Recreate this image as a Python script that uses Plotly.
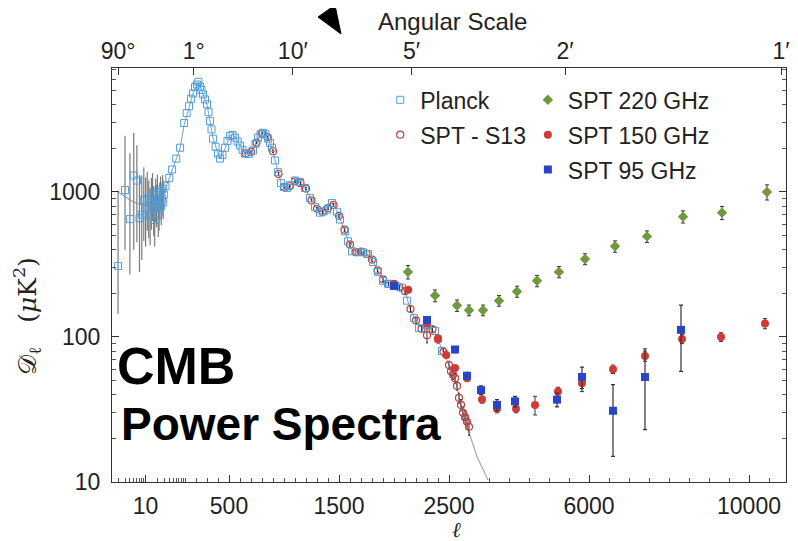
import math
import plotly.graph_objects as go

# ---------------- data ----------------
# Planck low-ell points
planck_low_l = [2, 3, 4, 5, 6, 7, 8, 9, 10, 11, 12, 13, 14, 15, 16, 17, 18, 19, 20,
                21, 22, 23, 24, 25, 26, 27, 28, 29]
planck_low_D = [309, 1030, 650, 1300, 1200, 660, 700, 880, 760, 900, 780, 690, 850, 950,
                760, 640, 900, 820, 1000, 700, 760, 880, 1000, 800, 900, 1050, 850, 960]
planck_low_up = [700, 1410, 1200, 1250, 900, 650, 600, 600, 500, 480, 420, 380, 400, 400,
                 340, 300, 340, 300, 320, 260, 260, 280, 280, 240, 250, 260, 220, 240]
planck_low_dn = [165, 630, 380, 900, 750, 380, 360, 420, 340, 360, 300, 260, 300, 320,
                 260, 220, 280, 250, 280, 210, 220, 240, 250, 210, 220, 240, 200, 210]

# Planck binned points
planck_l = [32, 40, 47, 60, 75, 95, 115, 136, 155, 173, 191, 209, 222, 236, 250, 264, 282,
            300, 314, 327, 341, 355, 378, 400, 418, 440, 464, 486, 509, 532, 555, 578, 600,
            623, 645, 680, 718, 741, 764, 787, 809, 832, 855, 873, 891, 918, 945, 973, 1000,
            1027, 1055, 1100, 1145, 1191, 1236, 1282, 1327, 1360, 1391, 1436, 1482, 1509,
            1555, 1582, 1618, 1664, 1718, 1764, 1809, 1855, 1900, 1945, 2009, 2073, 2118,
            2182, 2227, 2300, 2373, 2436]
planck_D = [1100, 1250, 1430, 1700, 2020, 2990, 3500, 3900, 4400, 4780, 5300, 5510, 5750,
            5340, 5050, 4710, 4350, 4030, 3550, 3090, 2700, 2330, 2050, 1840, 1700, 1800,
            2020, 2250, 2440, 2470, 2370, 2230, 2090, 1950, 1840, 1830, 1930, 2150, 2370,
            2500, 2560, 2500, 2330, 2180, 2020, 1650, 1370, 1150, 1080, 1065, 1115, 1200,
            1170, 1065, 910, 790, 720, 735, 755, 840, 730, 645, 535, 457, 390, 384, 384,
            373, 329, 281, 244, 233, 226, 219, 178, 135, 115, 120, 110, 80]

# SPT - S13 points
s13_l = [650, 700, 750, 800, 850, 900, 950, 1000, 1050, 1100, 1150, 1200, 1250, 1300, 1350,
         1400, 1450, 1500, 1550, 1600, 1650, 1700, 1750, 1800, 1850, 1900, 1950, 2000, 2050,
         2100, 2150, 2200, 2250, 2300, 2350, 2400, 2450, 2500, 2550, 2600, 2650, 2700, 2750,
         2800, 2850, 2900, 2950, 3000]
s13_D = [1840, 1890, 2190, 2530, 2390, 1910, 1330, 1085, 1095, 1185, 1150, 1055, 875, 765,
         730, 775, 815, 685, 550, 435, 385, 388, 375, 342, 288, 250, 232, 229, 220, 207,
         156, 130, 114, 103, 113, 96, 79, 64, 58, 55, 52, 46, 38, 34, 30, 28, 26, 24]
s13_err = [40, 40, 40, 45, 40, 35, 30, 25, 25, 25, 25, 22, 20, 18, 18, 18, 18, 16, 14, 12,
           11, 11, 10, 9, 8, 8, 7, 7, 7, 7, 6, 6, 6, 12, 6, 5, 5, 4, 4, 4, 4, 3, 3, 3, 3, 3,
           3, 3]

# best-fit theory curve
theory_l = [2, 5, 10, 20, 30, 47, 75, 95, 136, 173, 209, 222, 236, 264, 300, 327, 355, 400,
            418, 440, 464, 509, 535, 555, 600, 645, 680, 718, 764, 809, 830, 855, 891, 918,
            945, 973, 1018, 1055, 1100, 1145, 1191, 1236, 1282, 1327, 1391, 1436, 1482, 1509,
            1555, 1582, 1618, 1664, 1718, 1764, 1809, 1855, 1900, 1945, 2009, 2073, 2100,
            2145, 2182, 2227, 2300, 2373, 2436, 2525, 2650, 2700, 2750, 2825, 2900, 3000,
            3200, 3475]
theory_D = [1000, 850, 800, 900, 1000, 1400, 2000, 2900, 3900, 4780, 5510, 5700, 5400, 4710,
            4000, 3100, 2350, 1850, 1720, 1800, 2020, 2440, 2480, 2400, 2100, 1850, 1850,
            1950, 2350, 2560, 2530, 2350, 2000, 1650, 1380, 1160, 1050, 1110, 1180, 1170,
            1070, 920, 800, 730, 760, 840, 740, 650, 540, 460, 400, 385, 385, 370, 330, 285,
            248, 235, 228, 220, 210, 157, 137, 118, 118, 108, 82, 62, 52, 46, 38, 31, 28, 22,
            15, 10.3]

# SPT 220 GHz
spt220_l = [2127, 2373, 2700, 3000, 3350, 3750, 4200, 4700, 5250, 5900, 6650, 7450, 8350,
            9325, 10450]
spt220_D = [281, 193, 165, 153, 153, 178, 206, 244, 281, 345, 422, 494, 676, 720, 1000]
spt220_err = [30, 18, 15, 13, 13, 15, 18, 22, 25, 30, 38, 45, 65, 75, 120]

# SPT 150 GHz
spt150_l = [2000, 2130, 2300, 2400, 2475, 2650, 2950, 3325, 3700, 4175, 4650, 5225, 5825,
            6600, 7400, 8325, 9300, 10400]
spt150_D = [233, 212, 124, 98, 75, 61, 52, 37, 32, 32, 34, 42, 48, 60, 74, 97, 100, 124]
spt150_err = [6, 5, 4, 3, 3, 2, 2, 2, 2, 2, 5, 3, 6, 4, 6, 7, 7, 10]

# SPT 95 GHz
spt95_l = [2000, 2300, 2650, 2950, 3300, 3700, 4150, 5200, 5825, 6600, 7400, 8300]
spt95_D = [225, 131, 82, 54, 43, 34, 36, 37, 53, 31, 53, 112]
spt95_err = [8, 5, 4, 3, 3, 3, 3, 4, 9, 16, 30, 54]

# axis ticks
bottom_ticks = [10, 500, 1500, 2500, 6000, 10000]
top_angles_arcmin = [5400, 60, 10, 5, 2, 1]
top_labels = ["90°", "1°", "10′", "5′", "2′", "1′"]


# ---------------- piecewise ell scale (log, then two linear pieces) ----------------
def u(l):
    if l <= 100:
        return 73 + 39.4 * math.log10(l / 100.0)
    elif l <= 2500:
        return 73 + 0.11 * (l - 100)
    return 337 + 0.04 * (l - 2500)


def U(ls):
    return [u(v) for v in ls]


minor_l = ([2, 3, 4, 5, 6, 7, 8, 9, 20, 30, 40, 50, 60, 70, 80, 90, 100] +
           [v for v in range(200, 2500, 100) if v not in (500, 1500)] +
           [3000, 3500, 4000, 4500, 5000, 5500, 6500, 7000, 7500, 8000, 8500, 9000, 9500,
            10500])

FONT = "Liberation Sans"
TXT = "#222222"

fig = go.Figure()

fig.add_trace(go.Scatter(x=U(theory_l), y=theory_D, mode="lines",
                         line=dict(color="#95a3b5", width=1.1), showlegend=False,
                         hoverinfo="skip"))

fig.add_trace(go.Scatter(x=U(planck_low_l), y=planck_low_D, mode="markers",
                         marker=dict(symbol="square-open", size=7, color="#4f9fdc",
                                     line=dict(width=1)),
                         error_y=dict(type="data", array=planck_low_up,
                                      arrayminus=planck_low_dn, color="#7a7a7a",
                                      thickness=1.2, width=0),
                         showlegend=False))

fig.add_trace(go.Scatter(x=U(s13_l), y=s13_D, mode="markers", name="SPT - S13",
                         marker=dict(symbol="circle-open", size=7, color="#c0403a",
                                     line=dict(width=1.2)),
                         error_y=dict(type="data", array=s13_err, color="#333",
                                      thickness=1, width=1),
                         legend="legend", legendgroup="s13", legendrank=2))

fig.add_trace(go.Scatter(x=U(planck_l), y=planck_D, mode="markers", name="Planck",
                         marker=dict(symbol="square-open", size=7, color="#4f9fdc",
                                     line=dict(width=1)),
                         legend="legend", legendgroup="planck", legendrank=1))

fig.add_trace(go.Scatter(x=U(spt220_l), y=spt220_D, mode="markers", name="SPT 220 GHz",
                         marker=dict(symbol="diamond", size=8, color="#6f9a3c"),
                         error_y=dict(type="data", array=spt220_err, color="#333",
                                      thickness=1, width=2),
                         legend="legend2", legendgroup="g220", legendrank=1))

fig.add_trace(go.Scatter(x=U(spt150_l), y=spt150_D, mode="markers", name="SPT 150 GHz",
                         marker=dict(symbol="circle", size=8, color="#d23a36"),
                         error_y=dict(type="data", array=spt150_err, color="#333",
                                      thickness=1, width=2),
                         legend="legend2", legendgroup="g150", legendrank=2))

fig.add_trace(go.Scatter(x=U(spt95_l), y=spt95_D, mode="markers", name="SPT 95 GHz",
                         marker=dict(symbol="square", size=8, color="#2a44c8"),
                         error_y=dict(type="data", array=spt95_err, color="#333",
                                      thickness=1.2, width=2),
                         legend="legend2", legendgroup="g95", legendrank=3))

# invisible trace so that the top axis is attached
fig.add_trace(go.Scatter(x=U(theory_l), y=theory_D, xaxis="x2", mode="lines",
                         line=dict(width=0), opacity=0, showlegend=False,
                         hoverinfo="skip"))

# the page body adds an 8px offset; the plot area is 674 x 414 px
xr = [0, 674]
fig.update_layout(
    width=790, height=533,
    margin=dict(l=104, r=12, t=60, b=59, autoexpand=False),
    paper_bgcolor="white", plot_bgcolor="white",
    font=dict(family=FONT, size=23, color=TXT),
    xaxis=dict(range=xr, showgrid=False, zeroline=False, showline=True, automargin=False,
               linecolor="#333", linewidth=1.2, mirror=True,
               tickmode="array",
               tickvals=U(bottom_ticks),
               ticktext=[str(t) for t in bottom_ticks],
               ticks="inside", ticklen=7, tickcolor="#333", tickwidth=1,
               ticklabelstandoff=3,
               tickfont=dict(family=FONT, size=23, color=TXT),
               minor=dict(tickmode="array", tickvals=U(minor_l), ticks="inside",
                          ticklen=4, tickcolor="#555", tickwidth=1, showgrid=False)),
    xaxis2=dict(range=xr, overlaying="x", side="top", showgrid=False, zeroline=False,
                showline=False, automargin=False, tickmode="array",
                tickvals=[u(10800.0 / a) for a in top_angles_arcmin],
                ticktext=top_labels, ticks="inside", ticklen=7, tickcolor="#333",
                ticklabelstandoff=3,
                tickfont=dict(family=FONT, size=23, color=TXT)),
    yaxis=dict(type="log", range=[1.0, 3.855], showgrid=False, zeroline=False,
               automargin=False,
               showline=True, linecolor="#333", linewidth=1.2, mirror="ticks",
               tickmode="array", tickvals=[10, 100, 1000],
               ticktext=["10", "100", "1000"], ticks="inside", ticklen=7,
               tickcolor="#333", ticklabelstandoff=6,
               tickfont=dict(family=FONT, size=23, color=TXT),
               minor=dict(tickmode="array",
                          tickvals=[20, 30, 40, 50, 60, 70, 80, 90, 200, 300, 400, 500,
                                    600, 700, 800, 900, 2000, 3000, 4000, 5000, 6000, 7000],
                          ticks="inside", ticklen=4, tickcolor="#555", showgrid=False)),
    legend=dict(x=0.398, y=0.975, xanchor="left", yanchor="top",
                bgcolor="rgba(0,0,0,0)", font=dict(family=FONT, size=23, color=TXT),
                tracegroupgap=2, traceorder="grouped"),
    legend2=dict(x=0.617, y=0.975, xanchor="left", yanchor="top",
                 bgcolor="rgba(0,0,0,0)", font=dict(family=FONT, size=23, color=TXT),
                 tracegroupgap=2, traceorder="grouped"),
    showlegend=True,
)


def px(x):
    return (x - 112) / 674.0


def py(y):
    return (482 - y) / 414.0


# Text annotations
fig.add_annotation(text="𝒟<sub>ℓ</sub>   (<i>μ</i>K<sup>2</sup>)", xref="paper",
                   yref="paper", x=px(27), y=py(316), textangle=-90,
                   xanchor="center", yanchor="middle", showarrow=False,
                   font=dict(family="DejaVu Serif", size=25, color=TXT))
fig.add_annotation(text="CMB", xref="paper", yref="paper", x=px(115), y=py(366),
                   xanchor="left", yanchor="middle", showarrow=False,
                   font=dict(family=FONT, size=52, color="black", weight="bold"))
fig.add_annotation(text="Power Spectra", xref="paper", yref="paper", x=px(119), y=py(424),
                   xanchor="left", yanchor="middle", showarrow=False,
                   font=dict(family=FONT, size=46, color="black", weight="bold"))
fig.add_annotation(text="Angular Scale", xref="paper", yref="paper", x=px(452), y=py(22),
                   xanchor="center", yanchor="middle", showarrow=False,
                   font=dict(family=FONT, size=24, color=TXT))
fig.add_annotation(text="<i>ℓ</i>", xref="paper", yref="paper", x=px(456), y=py(530),
                   xanchor="center", yanchor="middle", showarrow=False,
                   font=dict(family="DejaVu Serif", size=21, color=TXT))

# decorative arrow head near the top, with a dotted tail
fig.add_shape(type="path", xref="paper", yref="paper",
              path=f"M {px(318)} {py(17)} L {px(335)} {py(5)} L {px(341)} {py(34)} Z",
              fillcolor="black", line=dict(color="black", width=1))
for cx, cy in [(326, 6), (322, 1)]:
    fig.add_shape(type="circle", xref="paper", yref="paper",
                  x0=px(cx - 1.6), x1=px(cx + 1.6), y0=py(cy - 1.6), y1=py(cy + 1.6),
                  fillcolor="black", line=dict(color="black", width=0))

fig.write_html("out.html")
